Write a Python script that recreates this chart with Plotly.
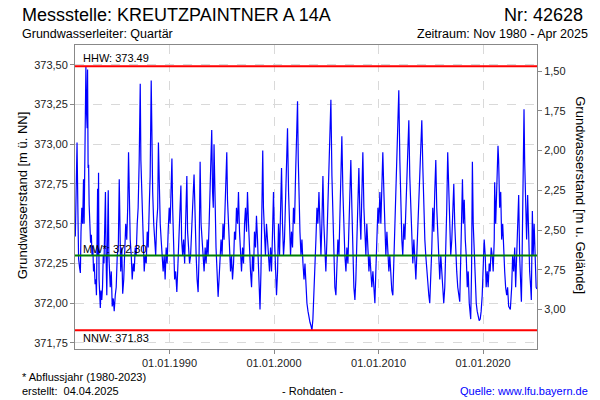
import pandas as pd
import plotly.graph_objects as go

# ---- data (decimal year, level m ü. NN) ----
readings_1980s = [
    (1980.99, 372.42), (1981.04, 372.75), (1981.15, 373.01), (1981.23, 372.60), (1981.30, 372.28),
    (1981.40, 372.22), (1981.47, 372.19), (1981.53, 372.45), (1981.61, 372.60), (1981.69, 372.50),
    (1981.77, 372.78), (1981.83, 372.50), (1981.90, 373.15), (1981.94, 373.35), (1982.00, 373.49),
    (1982.06, 373.20), (1982.12, 373.10), (1982.16, 373.47), (1982.21, 372.85), (1982.26, 372.87),
    (1982.31, 372.62), (1982.37, 372.55), (1982.45, 372.38), (1982.52, 372.43), (1982.59, 372.30),
    (1982.66, 372.36), (1982.73, 372.20), (1982.80, 372.25), (1982.88, 372.12), (1982.95, 372.15),
    (1983.01, 372.05), (1983.06, 372.35), (1983.12, 372.72), (1983.17, 372.30), (1983.21, 372.82),
    (1983.26, 372.15), (1983.33, 372.00), (1983.38, 371.97), (1983.44, 372.08), (1983.52, 372.02),
    (1983.59, 372.10), (1983.66, 372.30), (1983.73, 372.25), (1983.81, 372.45), (1983.87, 372.70),
    (1983.93, 372.30), (1984.00, 372.05), (1984.07, 372.40), (1984.14, 372.71), (1984.20, 372.30),
    (1984.26, 372.15), (1984.33, 372.10), (1984.43, 372.20), (1984.52, 371.98), (1984.62, 372.03),
    (1984.71, 371.95), (1984.81, 372.05), (1984.90, 372.10), (1985.00, 372.30), (1985.10, 372.35),
    (1985.19, 372.78), (1985.26, 372.40), (1985.33, 372.20), (1985.43, 372.35), (1985.52, 372.06),
    (1985.62, 372.15), (1985.72, 372.30), (1985.81, 372.50), (1985.91, 372.40), (1986.00, 372.60),
    (1986.08, 372.95), (1986.15, 372.55), (1986.24, 372.40), (1986.34, 372.30), (1986.43, 372.15),
    (1986.53, 372.25), (1986.62, 372.20), (1986.72, 372.35), (1986.81, 372.30), (1986.91, 372.50),
    (1987.00, 372.60), (1987.10, 372.90), (1987.20, 373.38), (1987.26, 372.90), (1987.34, 372.70),
    (1987.42, 372.50), (1987.48, 372.30), (1987.58, 372.20), (1987.67, 372.30), (1987.77, 372.25),
    (1987.87, 372.45), (1987.96, 372.35), (1988.06, 372.60), (1988.15, 372.80), (1988.25, 373.40),
    (1988.32, 372.95), (1988.39, 372.70), (1988.49, 372.50), (1988.58, 372.35), (1988.68, 372.30),
    (1988.77, 372.50), (1988.87, 372.60), (1988.94, 373.01), (1989.01, 372.70), (1989.11, 372.50),
    (1989.20, 372.40), (1989.30, 372.30), (1989.39, 372.20), (1989.49, 372.30), (1989.58, 372.15),
    (1989.68, 372.35), (1989.77, 372.25), (1989.87, 372.45), (1989.97, 372.60),
]
readings_1990s = [
    (1990.06, 372.50), (1990.16, 372.75), (1990.23, 372.91), (1990.30, 372.60), (1990.40, 372.30),
    (1990.49, 372.15), (1990.59, 372.20), (1990.70, 372.07), (1990.78, 372.20), (1990.88, 372.35),
    (1990.97, 372.50), (1991.09, 372.74), (1991.16, 372.40), (1991.26, 372.30), (1991.35, 372.40),
    (1991.45, 372.25), (1991.54, 372.50), (1991.66, 372.80), (1991.73, 372.45), (1991.83, 372.30),
    (1991.92, 372.25), (1992.02, 372.30), (1992.12, 372.50), (1992.21, 372.60), (1992.35, 372.81),
    (1992.45, 372.50), (1992.55, 372.30), (1992.64, 372.15), (1992.74, 372.07), (1992.83, 372.30),
    (1992.93, 372.89), (1993.02, 372.50), (1993.12, 372.40), (1993.22, 372.30), (1993.31, 372.20),
    (1993.41, 372.35), (1993.50, 372.25), (1993.60, 372.40), (1993.69, 372.30), (1993.79, 372.50),
    (1993.88, 372.70), (1994.04, 373.09), (1994.12, 372.70), (1994.19, 372.60), (1994.26, 373.00),
    (1994.36, 372.60), (1994.45, 372.35), (1994.55, 372.20), (1994.65, 372.04), (1994.74, 372.15),
    (1994.84, 372.25), (1994.93, 372.40), (1995.03, 372.30), (1995.12, 372.50), (1995.22, 372.40),
    (1995.31, 372.60), (1995.48, 372.95), (1995.55, 372.65), (1995.65, 372.45), (1995.74, 372.30),
    (1995.84, 372.20), (1995.93, 372.30), (1996.03, 372.15), (1996.13, 372.25), (1996.22, 372.45),
    (1996.32, 372.40), (1996.41, 372.60), (1996.51, 372.50), (1996.60, 372.70), (1996.70, 372.45),
    (1996.79, 372.30), (1996.89, 372.20), (1996.99, 372.35), (1997.08, 372.25), (1997.18, 372.50),
    (1997.27, 372.60), (1997.37, 372.45), (1997.46, 372.70), (1997.56, 372.50), (1997.66, 372.30),
    (1997.75, 372.20), (1997.85, 372.10), (1997.94, 372.30), (1998.04, 372.20), (1998.13, 372.45),
    (1998.23, 372.35), (1998.32, 372.55), (1998.42, 372.40), (1998.52, 372.20), (1998.61, 372.05),
    (1998.66, 371.96), (1998.75, 372.20), (1998.85, 372.60), (1998.92, 372.96), (1998.99, 372.60),
    (1999.09, 372.40), (1999.18, 372.30), (1999.28, 372.50), (1999.38, 372.40), (1999.47, 372.30),
    (1999.57, 372.20), (1999.67, 372.35), (1999.76, 372.20), (1999.86, 372.45), (1999.95, 372.70),
]
readings_2000s = [
    (2000.05, 372.40), (2000.14, 372.15), (2000.24, 372.05), (2000.34, 372.20), (2000.43, 372.50),
    (2000.53, 372.30), (2000.62, 372.60), (2000.72, 372.85), (2000.81, 372.50), (2000.91, 372.30),
    (2001.00, 372.40), (2001.10, 372.60), (2001.20, 372.90), (2001.29, 373.10), (2001.39, 372.70),
    (2001.48, 372.50), (2001.58, 372.30), (2001.67, 372.45), (2001.77, 372.35), (2001.86, 372.60),
    (2001.96, 372.50), (2002.06, 372.80), (2002.15, 373.00), (2002.25, 373.27), (2002.32, 372.90),
    (2002.39, 372.60), (2002.48, 372.45), (2002.58, 372.30), (2002.67, 372.40), (2002.77, 372.25),
    (2002.87, 372.15), (2002.96, 372.25), (2003.06, 372.10), (2003.15, 372.00), (2003.25, 371.95),
    (2003.34, 371.90), (2003.44, 371.88), (2003.53, 371.86), (2003.63, 371.83), (2003.72, 371.90),
    (2003.82, 372.05), (2003.92, 372.20), (2004.01, 372.40), (2004.11, 372.60), (2004.20, 372.50),
    (2004.30, 372.70), (2004.39, 372.50), (2004.49, 372.30), (2004.58, 372.50), (2004.68, 372.80),
    (2004.77, 372.50), (2004.87, 372.30), (2004.96, 372.20), (2005.06, 372.40), (2005.16, 372.60),
    (2005.25, 372.90), (2005.35, 373.10), (2005.44, 373.28), (2005.54, 372.80), (2005.63, 372.50),
    (2005.73, 372.30), (2005.82, 372.10), (2005.92, 372.05), (2006.02, 372.20), (2006.11, 372.40),
    (2006.21, 372.30), (2006.30, 372.60), (2006.40, 372.80), (2006.49, 373.05), (2006.59, 372.70),
    (2006.68, 372.45), (2006.78, 372.30), (2006.88, 372.20), (2006.97, 372.35), (2007.07, 372.25),
    (2007.16, 372.50), (2007.26, 372.70), (2007.35, 372.90), (2007.45, 372.60), (2007.54, 372.30),
    (2007.64, 372.10), (2007.74, 372.02), (2007.83, 372.15), (2007.93, 372.40), (2008.02, 372.60),
    (2008.12, 372.85), (2008.22, 372.55), (2008.31, 372.40), (2008.41, 372.70), (2008.50, 372.95),
    (2008.60, 372.60), (2008.69, 372.40), (2008.79, 372.30), (2008.88, 372.50), (2008.98, 372.35),
    (2009.08, 372.20), (2009.17, 372.30), (2009.27, 372.15), (2009.36, 372.10), (2009.46, 372.20),
    (2009.55, 372.05), (2009.65, 372.00), (2009.74, 372.20), (2009.84, 372.40), (2009.94, 372.60),
]
readings_2010s = [
    (2010.03, 372.50), (2010.13, 372.70), (2010.22, 372.50), (2010.32, 372.80), (2010.41, 372.95),
    (2010.51, 372.70), (2010.60, 372.45), (2010.70, 372.30), (2010.80, 372.45), (2010.89, 372.30),
    (2010.99, 372.20), (2011.08, 372.30), (2011.18, 372.15), (2011.27, 372.08), (2011.37, 372.05),
    (2011.46, 372.25), (2011.56, 372.50), (2011.66, 372.70), (2011.75, 372.95), (2011.85, 373.20),
    (2011.94, 373.34), (2012.04, 372.90), (2012.13, 372.60), (2012.23, 372.40), (2012.32, 372.30),
    (2012.42, 372.50), (2012.52, 372.40), (2012.61, 372.60), (2012.71, 372.80), (2012.80, 372.95),
    (2012.90, 373.15), (2012.99, 372.80), (2013.09, 372.55), (2013.18, 372.35), (2013.28, 372.25),
    (2013.38, 372.40), (2013.47, 372.30), (2013.57, 372.15), (2013.66, 372.30), (2013.76, 372.50),
    (2013.85, 372.70), (2013.95, 372.90), (2014.04, 373.05), (2014.14, 373.15), (2014.24, 372.85),
    (2014.33, 372.60), (2014.43, 372.40), (2014.52, 372.30), (2014.62, 372.20), (2014.71, 372.10),
    (2014.81, 372.05), (2014.90, 372.00), (2015.00, 372.15), (2015.10, 372.35), (2015.19, 372.60),
    (2015.29, 372.45), (2015.38, 372.70), (2015.48, 372.90), (2015.57, 372.60), (2015.67, 372.40),
    (2015.76, 372.25), (2015.86, 372.15), (2015.96, 372.30), (2016.05, 372.20), (2016.15, 372.05),
    (2016.24, 372.00), (2016.34, 372.10), (2016.43, 372.30), (2016.53, 372.60), (2016.62, 372.95),
    (2016.72, 372.70), (2016.82, 372.50), (2016.91, 372.30), (2017.01, 372.40), (2017.10, 372.60),
    (2017.20, 372.75), (2017.29, 372.50), (2017.39, 372.30), (2017.48, 372.20), (2017.58, 372.10),
    (2017.68, 372.05), (2017.77, 372.01), (2017.87, 372.30), (2017.96, 372.60), (2018.03, 372.78),
    (2018.11, 372.50), (2018.20, 372.65), (2018.30, 372.40), (2018.39, 372.30), (2018.49, 372.10),
    (2018.58, 372.20), (2018.68, 372.00), (2018.78, 371.92), (2018.82, 371.90), (2018.90, 372.20),
    (2018.98, 372.89), (2019.06, 372.50), (2019.16, 372.30), (2019.25, 372.15), (2019.35, 372.00),
    (2019.44, 371.95), (2019.54, 371.92), (2019.63, 371.89), (2019.73, 371.90), (2019.82, 371.95),
    (2019.92, 372.05),
]
readings_2020s = [
    (2020.02, 372.20), (2020.11, 372.40), (2020.21, 372.30), (2020.30, 372.10), (2020.40, 372.20),
    (2020.49, 372.10), (2020.59, 372.25), (2020.68, 372.20), (2020.78, 372.35), (2020.88, 372.30),
    (2020.97, 372.20), (2021.07, 372.40), (2021.11, 372.76), (2021.21, 372.50), (2021.30, 372.70),
    (2021.43, 372.99), (2021.49, 372.90), (2021.59, 372.60), (2021.69, 372.70), (2021.78, 372.40),
    (2021.88, 372.50), (2021.97, 372.30), (2022.07, 372.20), (2022.16, 372.10), (2022.26, 372.05),
    (2022.35, 372.10), (2022.45, 371.98), (2022.61, 371.96), (2022.74, 372.10), (2022.83, 372.30),
    (2022.93, 372.20), (2023.03, 372.35), (2023.12, 372.10), (2023.22, 372.30), (2023.31, 372.50),
    (2023.41, 372.68), (2023.50, 372.30), (2023.60, 372.10), (2023.67, 372.01), (2023.74, 372.30),
    (2023.82, 372.80), (2023.92, 373.22), (2023.98, 372.90), (2024.08, 372.60), (2024.17, 372.40),
    (2024.27, 372.68), (2024.37, 372.30), (2024.46, 372.20), (2024.56, 372.10), (2024.62, 372.02),
    (2024.72, 372.58), (2024.80, 372.30), (2024.89, 372.50), (2024.99, 372.30), (2025.08, 372.10),
    (2025.16, 372.09),
]

ground_level = 374.96          # Geländehöhe (m ü. NN), from the right-hand scale
hhw, mw, nnw = 373.49, 372.30, 371.83
y_ticks = [371.75, 372.00, 372.25, 372.50, 372.75, 373.00, 373.25, 373.50]
y2_ticks = [1.50, 1.75, 2.00, 2.25, 2.50, 2.75, 3.00, 3.25]
x_tick_dates = ["1990-01-01", "2000-01-01", "2010-01-01", "2020-01-01"]
x_tick_text = ["01.01.1990", "01.01.2000", "01.01.2010", "01.01.2020"]
x_range = ["1980-12-16", "2025-03-01"]
y_range = [371.712, 373.624]

readings = readings_1980s + readings_1990s + readings_2000s + readings_2010s + readings_2020s
years = [r[0] for r in readings]
levels = [r[1] for r in readings]


def to_date(y):
    yi = int(y)
    return pd.Timestamp(yi, 1, 1) + pd.Timedelta(days=(y - yi) * 365.25)


dates = [to_date(y) for y in years]

FONT = "Arial, Liberation Sans, sans-serif"
fig = go.Figure()
fig.add_trace(go.Scatter(x=dates, y=levels, mode="lines",
                         line=dict(color="#0000ff", width=1.2), showlegend=False,
                         hoverinfo="skip"))
fig.add_trace(go.Scatter(x=dates, y=[ground_level - v for v in levels], mode="lines",
                         yaxis="y2", line=dict(width=0), opacity=0, showlegend=False,
                         hoverinfo="skip"))

for val, col in [(hhw, "#ff0000"), (mw, "#008000"), (nnw, "#ff0000")]:
    fig.add_shape(type="line", xref="paper", x0=0, x1=1, yref="y", y0=val, y1=val,
                  line=dict(color=col, width=2), layer="above")

lbl_font = dict(family=FONT, size=11, color="#000000")
fig.add_annotation(x=0.013, xref="paper", y=hhw, yref="y", text="HHW: 373.49",
                   showarrow=False, xanchor="left", yanchor="bottom", yshift=0, font=lbl_font)
fig.add_annotation(x=0.013, xref="paper", y=mw, yref="y", text="MW*: 372.30",
                   showarrow=False, xanchor="left", yanchor="bottom", yshift=-1, font=lbl_font)
fig.add_annotation(x=0.013, xref="paper", y=nnw, yref="y", text="NNW: 371.83",
                   showarrow=False, xanchor="left", yanchor="top", yshift=0, font=lbl_font)


def txt(x, y, s, size, anchor="left", color="#000000", angle=0):
    fig.add_annotation(x=x, y=y, xref="paper", yref="paper", text=s, showarrow=False,
                       xanchor=anchor, yanchor="middle", textangle=angle,
                       font=dict(family=FONT, size=size, color=color))


txt(-0.1182, 1.0986, "Messstelle: KREUTZPAINTNER A 14A", 18)
txt(1.1031, 1.0986, "Nr: 42628", 18, anchor="right")
txt(-0.1182, 1.0362, "Grundwasserleiter: Quartär", 12.5)
txt(1.1139, 1.0362, "Zeitraum: Nov 1980 - Apr 2025", 12.5, anchor="right")
txt(-0.1182, -0.0910, "* Abflussjahr (1980-2023)", 11)
txt(-0.1182, -0.1367, "erstellt:  04.04.2025", 11)
txt(0.5130, -0.1367, "- Rohdaten -", 11, anchor="center")
txt(1.1139, -0.1367, "Quelle: www.lfu.bayern.de", 11, anchor="right", color="#0000ff")
txt(-0.1139, 0.507, "Grundwasserstand [m ü. NN]", 13, anchor="center", angle=-90)
txt(1.0923, 0.507, "Grundwasserstand [m u. Gelände]", 13, anchor="center", angle=90)

axis_common = dict(showline=True, linecolor="#888888", linewidth=1, ticks="outside",
                   ticklen=4, tickcolor="#888888", showgrid=True, gridcolor="#d9d9d9",
                   griddash="dash", gridwidth=1, zeroline=False,
                   tickfont=dict(family=FONT, size=11, color="#222222"))

fig.update_layout(
    width=600, height=400, margin=dict(l=75, r=63, t=45, b=51),
    paper_bgcolor="white", plot_bgcolor="white", separators=",.",
    xaxis=dict(type="date", range=x_range, tickvals=x_tick_dates, ticktext=x_tick_text,
               mirror=True, **axis_common),
    yaxis=dict(range=y_range, tickvals=y_ticks, tickformat=".2f", **axis_common),
    yaxis2=dict(range=[ground_level - y_range[0], ground_level - y_range[1]],
                tickvals=y2_ticks, tickformat=".2f", overlaying="y", side="right",
                showline=True, linecolor="#888888", linewidth=1, ticks="outside", ticklen=4,
                tickcolor="#888888", showgrid=False, zeroline=False,
                tickfont=dict(family=FONT, size=11, color="#222222")),
)

fig.write_html("out.html", config={"displayModeBar": False},
               post_script="document.body.style.margin='0';document.body.style.padding='0';")
